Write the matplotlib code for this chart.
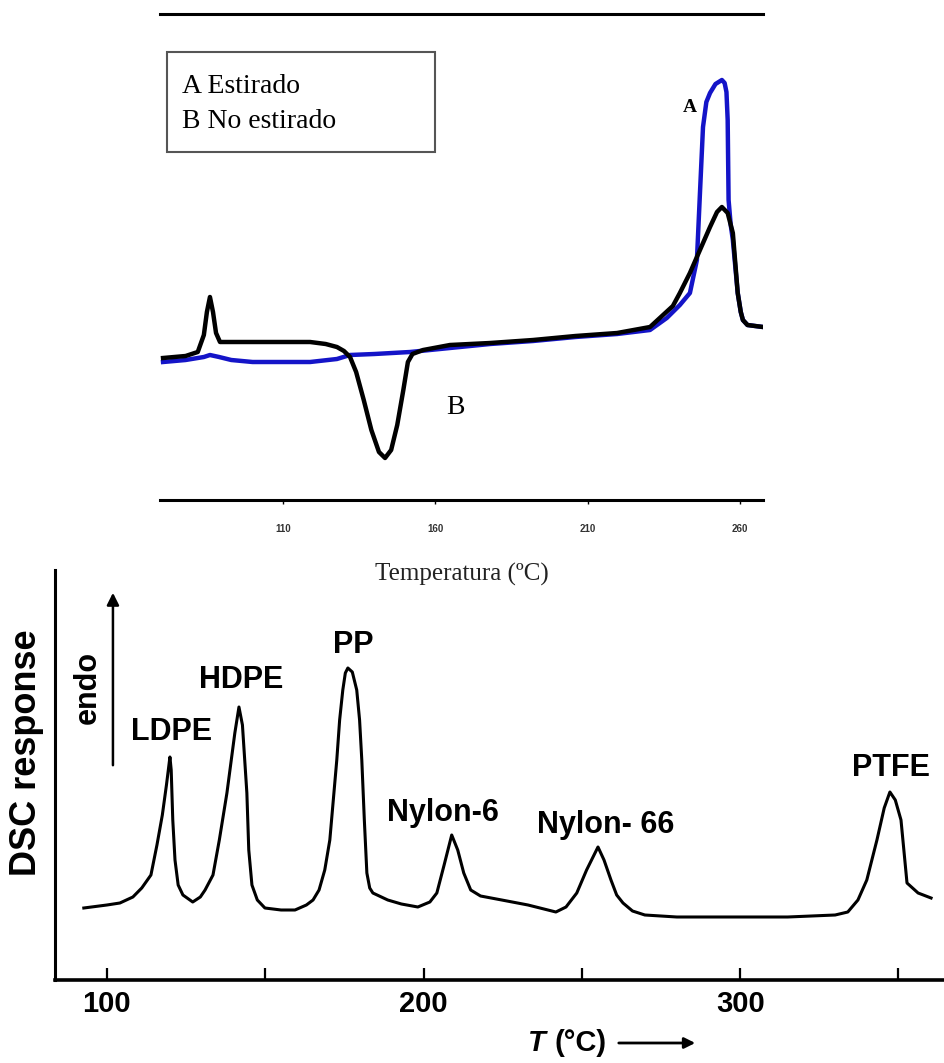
import matplotlib
matplotlib.use("Agg")
import matplotlib.pyplot as plt
from matplotlib.patches import Rectangle, FancyArrowPatch

# ---------------- data: top panel (DSC, stretched vs. unstretched) ----------------
temp_B = [70.6, 78, 82, 84, 85, 86.0, 87.0, 88.0, 89.3, 95, 105, 118.9, 124, 127.7, 130,
          132.0, 134, 136.5, 139, 141.5, 143.5, 145.5, 147.5, 149.5, 151, 152.5, 156,
          164.8, 178, 192.1, 206, 219.7, 230.5, 235.5, 238, 240.3, 243.6, 246.9, 250.2,
          252.5, 254.1, 256, 257.7, 259.3, 260.3, 261.0, 262.5, 265, 267.6]
flow_B = [142, 144, 148, 165, 188, 203, 188, 167, 158, 158, 158, 158, 156, 153, 149,
          143, 128, 100, 70, 48, 42, 50, 75, 110, 138, 146, 150,
          155, 157, 160, 164, 167, 173, 187, 194, 207, 227, 250, 273,
          288, 293, 287, 267, 207, 188, 180, 175, 174, 173]

temp_A = [70.6, 78, 84, 86, 89, 93, 100, 118.9, 127.7, 132.0, 140, 151.7, 164.8, 178,
          192.1, 206, 219.7, 230.5, 236, 240.3, 243.6, 245.9, 246.9, 247.9, 249, 250.2,
          252, 254.1, 255.0, 255.6, 256.0, 256.3, 257.0, 257.7, 259.3, 260.3, 261.0,
          262.5, 265, 267.6]
flow_A = [138, 140, 143, 145, 143, 140, 138, 138, 141, 145, 146, 148, 152, 156,
          159, 163, 166, 170, 182, 195, 207, 240, 307, 373, 398, 407,
          416, 420, 417, 408, 380, 300, 275, 260, 207, 188, 180,
          175, 174, 173]

top_ticks = [110, 160, 210, 260]
legend_lines = ["A Estirado", "B No estirado"]

# ---------------- data: bottom panel (polymer melting peaks) ----------------
temp_poly = [92.7, 100, 104.1, 108.2, 111, 113.9, 115.8, 117.5, 118.8, 119.9, 120.3, 120.8,
             121.5, 122.5, 124, 127.1, 129.5, 131, 133.5, 135.5, 137.9, 140.4, 141.7,
             142.8, 144.2, 144.8, 145.8, 147.5, 149.9, 155, 159.4, 163, 165.1, 167,
             168.8, 170.4, 171.5, 172.6, 173.5, 174.5, 175.3, 176.1, 177.5, 178.9, 179.8,
             180.5, 181.3, 182.1, 183, 184.0, 188.7, 193, 198.2, 202, 204.2, 206.5,
             208.9, 210.8, 212.7, 214.9, 218, 224.7, 233, 241.8, 245, 248.4, 251.5,
             255.1, 257, 259.2, 261, 263, 266, 269.9, 280, 296.4, 315, 330.0, 334,
             337.2, 340, 343.2, 345.5, 347.3, 349, 350.8, 352.7, 356.2, 360.3]
resp_poly_px = [908, 905, 903, 897, 888, 875, 845, 815, 785, 757, 770, 820,
                860, 885, 895, 902, 897, 890, 875, 840, 793, 733, 707,
                725, 793, 850, 885, 900, 908, 910, 910, 905, 900, 890,
                870, 840, 800, 760, 720, 690, 673, 668, 672, 690, 720,
                760, 820, 873, 888, 893, 900, 904, 907, 902, 893, 865,
                835, 850, 873, 890, 896, 900, 905, 912, 907, 893, 870,
                847, 860, 880, 895, 903, 911, 915, 917, 917, 917, 915, 912,
                900, 880, 840, 808, 792, 800, 820, 883, 893, 898]
resp_poly = [980 - v for v in resp_poly_px]

poly_names = ["LDPE", "HDPE", "PP", "Nylon-6", "Nylon- 66", "PTFE"]
poly_label_T = [120.5, 142.3, 177.8, 206.0, 257.5, 347.5]
poly_label_y = [248, 300, 335, 167, 155, 212]

bottom_ticks = [100, 150, 200, 250, 300, 350]
bottom_ticklabels = ["100", "", "200", "", "300", ""]

# ---------------- figure ----------------
W, H = 945, 1063
fig = plt.figure(figsize=(W / 100, H / 100), dpi=100)

serif = ["Liberation Serif", "DejaVu Serif"]
sans = ["Liberation Sans", "DejaVu Sans"]

# bottom axes (created first, transparent background)
ax2 = fig.add_axes([55 / W, 1 - 980 / H, 890 / W, 410 / H])
ax2.set_facecolor("none")
ax2.plot(temp_poly, resp_poly, color="black", lw=2.2, solid_joinstyle="round")
ax2.set_xlim(83.6, 364.7)
ax2.set_ylim(0, 410)
ax2.spines["right"].set_visible(False)
ax2.spines["top"].set_visible(False)
ax2.spines["left"].set_linewidth(2.2)
ax2.spines["bottom"].set_linewidth(2.6)
ax2.set_yticks([])
ax2.set_xticks(bottom_ticks)
ax2.set_xticklabels(bottom_ticklabels, fontsize=21, fontweight="bold", family=sans)
ax2.tick_params(axis="x", direction="in", length=9, width=1.6, pad=7)

for name, tx, ty in zip(poly_names, poly_label_T, poly_label_y):
    ax2.text(tx, ty, name, fontsize=22, fontweight="bold", family=sans,
             ha="center", va="center")

ax2.annotate("", xy=(101.9, 390), xytext=(101.9, 212),
             arrowprops=dict(arrowstyle="-|>", lw=1.8, color="black", mutation_scale=18))
ax2.text(94.0, 293, "endo", rotation=90, fontsize=22, fontweight="bold", family=sans,
         ha="center", va="center")

# top axes
ax1 = fig.add_axes([160 / W, 1 - 500 / H, 603 / W, 486 / H])
ax1.set_facecolor("none")
ax1.plot(temp_A, flow_A, color="#1414c8", lw=3.2, solid_joinstyle="round")
ax1.plot(temp_B, flow_B, color="black", lw=3.2, solid_joinstyle="round")
ax1.set_xlim(69.6, 267.6)
ax1.set_ylim(0, 486)
ax1.spines["left"].set_visible(False)
ax1.spines["right"].set_visible(False)
ax1.spines["top"].set_linewidth(2.2)
ax1.spines["bottom"].set_linewidth(2.2)
ax1.set_yticks([])
ax1.set_xticks(top_ticks)
ax1.set_xticklabels([str(t) for t in top_ticks], fontsize=7, fontweight="bold",
                    family=sans, color="#333333")
ax1.tick_params(axis="x", direction="out", length=3, width=1, pad=14)
ax1.set_xlabel("Temperatura (ºC)", fontsize=18, family=serif, labelpad=21, color="#222222")

ax1.add_patch(Rectangle((0.0116, 0.716), 0.4444, 0.206, transform=ax1.transAxes,
                        fill=False, edgecolor="#555555", lw=1.5))
ax1.text(0.0365, 0.837, legend_lines[0], transform=ax1.transAxes, fontsize=20,
         family=serif, va="baseline", ha="left")
ax1.text(0.0365, 0.765, legend_lines[1], transform=ax1.transAxes, fontsize=20,
         family=serif, va="baseline", ha="left")
ax1.text(243.6, 393, "A", fontsize=14, fontweight="bold", family=serif, ha="center", va="center")
ax1.text(166.5, 92, "B", fontsize=20, family=serif, ha="center", va="center")

fig.text(27 / W, 1 - 753 / H, "DSC response", rotation=90, fontsize=26,
         fontweight="bold", family=sans, ha="center", va="center")

# x label with arrow
fig.text(537 / W, 1 - 1043 / H, "T", fontsize=21, fontweight="bold", style="italic",
         family=sans, ha="center", va="center")
fig.text(581 / W, 1 - 1043 / H, "(°C)", fontsize=21, fontweight="bold",
         family=sans, ha="center", va="center")
fig.patches.append(FancyArrowPatch(
    (616 / W, 1 - 1043 / H), (698 / W, 1 - 1043 / H), transform=fig.transFigure,
    arrowstyle="-|>", mutation_scale=16, lw=2, color="black"))

fig.savefig("out.png", dpi=100, facecolor="white")
